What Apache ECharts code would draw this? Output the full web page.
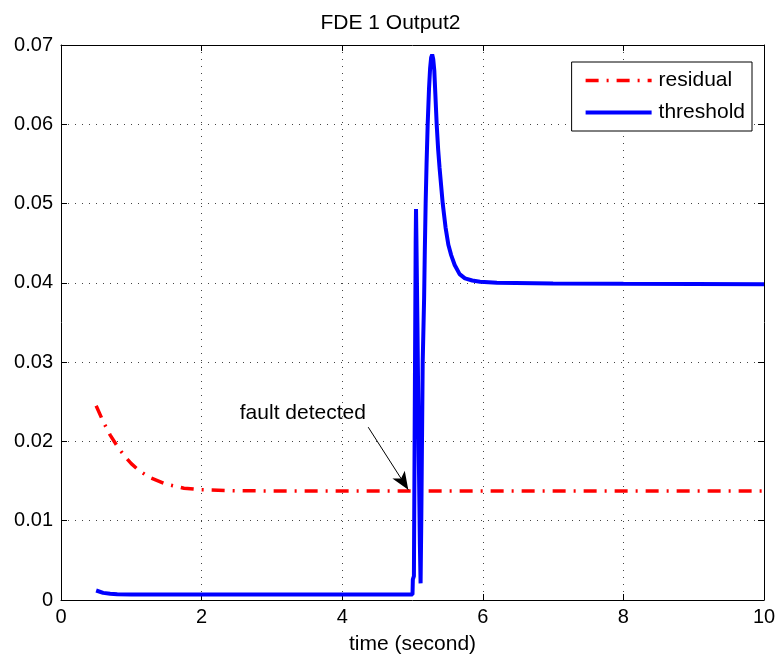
<!DOCTYPE html>
<html>
<head>
<meta charset="utf-8">
<script src="https://cdn.jsdelivr.net/npm/echarts@6/dist/echarts.min.js"></script>
<style>
  html, body { margin: 0; padding: 0; background: #fff; }
  #chart { width: 781px; height: 663px; }
</style>
</head>
<body>
<div id="chart"></div>
<script>
// residual (dash-dot red)
const residualX = [0.5, 0.6, 0.7, 0.8, 0.9, 1.0, 1.1, 1.25, 1.5, 1.75, 2.0, 2.5, 3, 4, 5, 6, 7, 8, 9, 10]
const residualY = [0.0245, 0.0225, 0.0208, 0.0194, 0.0182, 0.0172, 0.0164, 0.0155, 0.0146, 0.0141, 0.0139, 0.01378, 0.01375, 0.01375, 0.01375, 0.01375, 0.01375, 0.01375, 0.01375, 0.01375]

// threshold (solid blue)
const thresholdX = [0.5, 0.6, 0.7, 0.8, 1.0, 2, 3, 4, 5.0, 5.005, 5.02, 5.03, 5.045, 5.05, 5.055, 5.07, 5.09, 5.105, 5.115, 5.125, 5.135, 5.145, 5.165, 5.175, 5.187, 5.2, 5.216, 5.235, 5.25, 5.265, 5.28, 5.295, 5.31, 5.325, 5.344, 5.365, 5.385, 5.43, 5.47, 5.51, 5.55, 5.6, 5.67, 5.746, 5.85, 5.96, 6.2, 7, 8, 9, 10]
const thresholdY = [0.0012, 0.0009, 0.0008, 0.00074, 0.0007, 0.0007, 0.0007, 0.0007, 0.0007, 0.0026, 0.003, 0.02, 0.045, 0.0493, 0.046, 0.035, 0.018, 0.007, 0.0021, 0.01, 0.02, 0.03, 0.038, 0.044, 0.05, 0.055, 0.06, 0.0645, 0.067, 0.0684, 0.0688, 0.0682, 0.0668, 0.0638, 0.06, 0.0568, 0.0545, 0.05, 0.047, 0.0448, 0.0435, 0.04225, 0.0411, 0.04057, 0.0403, 0.04015, 0.04, 0.03991, 0.03988, 0.03986, 0.03984]

// annotation
const arrowFrom = [4.37, 0.0218]
const arrowTo = [4.94, 0.0139]
const noteAt = [3.44, 0.0236]

const chart = echarts.init(document.getElementById('chart'))

const fontFamily = '"Liberation Sans", Arial, sans-serif'
const gridLine = { show: true, lineStyle: { color: '#444', width: 1, type: [1, 6] } }
const tick = { show: true, inside: true, length: 6, lineStyle: { color: '#000' } }
const residualLine = { color: '#ff0000', width: 3.5, type: [13, 8, 2, 8] }
const thresholdLine = { color: '#0000ff', width: 4, type: 'solid' }

const option = {
  animation: false,
  textStyle: { fontFamily },
  title: {
    text: 'FDE 1 Output2',
    left: 'center',
    top: 8,
    textStyle: { fontSize: 21, fontWeight: 'normal', color: '#000', fontFamily }
  },
  legend: {
    orient: 'vertical',
    right: 29,
    top: 62,
    padding: [8, 7, 8, 12],
    itemGap: 11,
    itemWidth: 66,
    itemHeight: 14,
    borderColor: '#000',
    borderWidth: 1,
    backgroundColor: '#fff',
    itemStyle: { opacity: 0 },
    textStyle: { fontSize: 21, color: '#000', fontFamily, padding: [0, 0, 0, 2] },
    data: [
      { name: 'residual', lineStyle: residualLine },
      { name: 'threshold', lineStyle: thresholdLine }
    ]
  },
  grid: { left: 61, right: 17, top: 45, bottom: 63 },
  xAxis: [
    {
      type: 'value',
      min: 0,
      max: 10,
      interval: 2,
      name: 'time (second)',
      nameLocation: 'middle',
      nameGap: 34,
      nameTextStyle: { fontSize: 21, color: '#000', fontFamily },
      axisLine: { show: true, lineStyle: { color: '#000' } },
      axisTick: tick,
      axisLabel: { fontSize: 20, color: '#000', margin: 7, fontFamily },
      splitLine: gridLine
    },
    {
      type: 'value',
      position: 'top',
      min: 0,
      max: 10,
      interval: 2,
      axisLine: { show: true, onZero: false, lineStyle: { color: '#000' } },
      axisTick: tick,
      axisLabel: { show: false },
      splitLine: { show: false }
    }
  ],
  yAxis: [
    {
      type: 'value',
      min: 0,
      max: 0.07,
      interval: 0.01,
      axisLine: { show: true, lineStyle: { color: '#000' } },
      axisTick: tick,
      axisLabel: {
        fontSize: 20,
        color: '#000',
        margin: 8,
        fontFamily,
        formatter: function (v) {
          return v === 0 ? '0' : v.toFixed(2)
        }
      },
      splitLine: gridLine
    },
    {
      type: 'value',
      position: 'right',
      min: 0,
      max: 0.07,
      interval: 0.01,
      axisLine: { show: true, onZero: false, lineStyle: { color: '#000' } },
      axisTick: tick,
      axisLabel: { show: false },
      splitLine: { show: false }
    }
  ],
  series: [
    {
      name: 'residual',
      type: 'line',
      symbol: 'none',
      color: '#ff0000',
      lineStyle: residualLine,
      data: residualX.map((x, i) => [x, residualY[i]]),
      z: 3,
      markLine: {
        silent: true,
        animation: false,
        symbol: ['none', 'arrow'],
        symbolSize: [11, 18],
        label: { show: false },
        lineStyle: { color: '#000', width: 1, type: 'solid' },
        itemStyle: { color: '#000' },
        data: [[
          { coord: arrowFrom, symbol: 'none' },
          { coord: arrowTo, symbol: 'arrow' }
        ]]
      },
      markPoint: {
        silent: true,
        animation: false,
        symbol: 'circle',
        symbolSize: 0,
        data: [{
          coord: noteAt,
          label: {
            show: true,
            position: 'inside',
            formatter: 'fault detected',
            color: '#000',
            fontSize: 21,
            fontFamily
          }
        }]
      }
    },
    {
      name: 'threshold',
      type: 'line',
      symbol: 'none',
      color: '#0000ff',
      lineStyle: thresholdLine,
      data: thresholdX.map((x, i) => [x, thresholdY[i]]),
      z: 4
    }
  ]
}

chart.setOption(option)
</script>
</body>
</html>
